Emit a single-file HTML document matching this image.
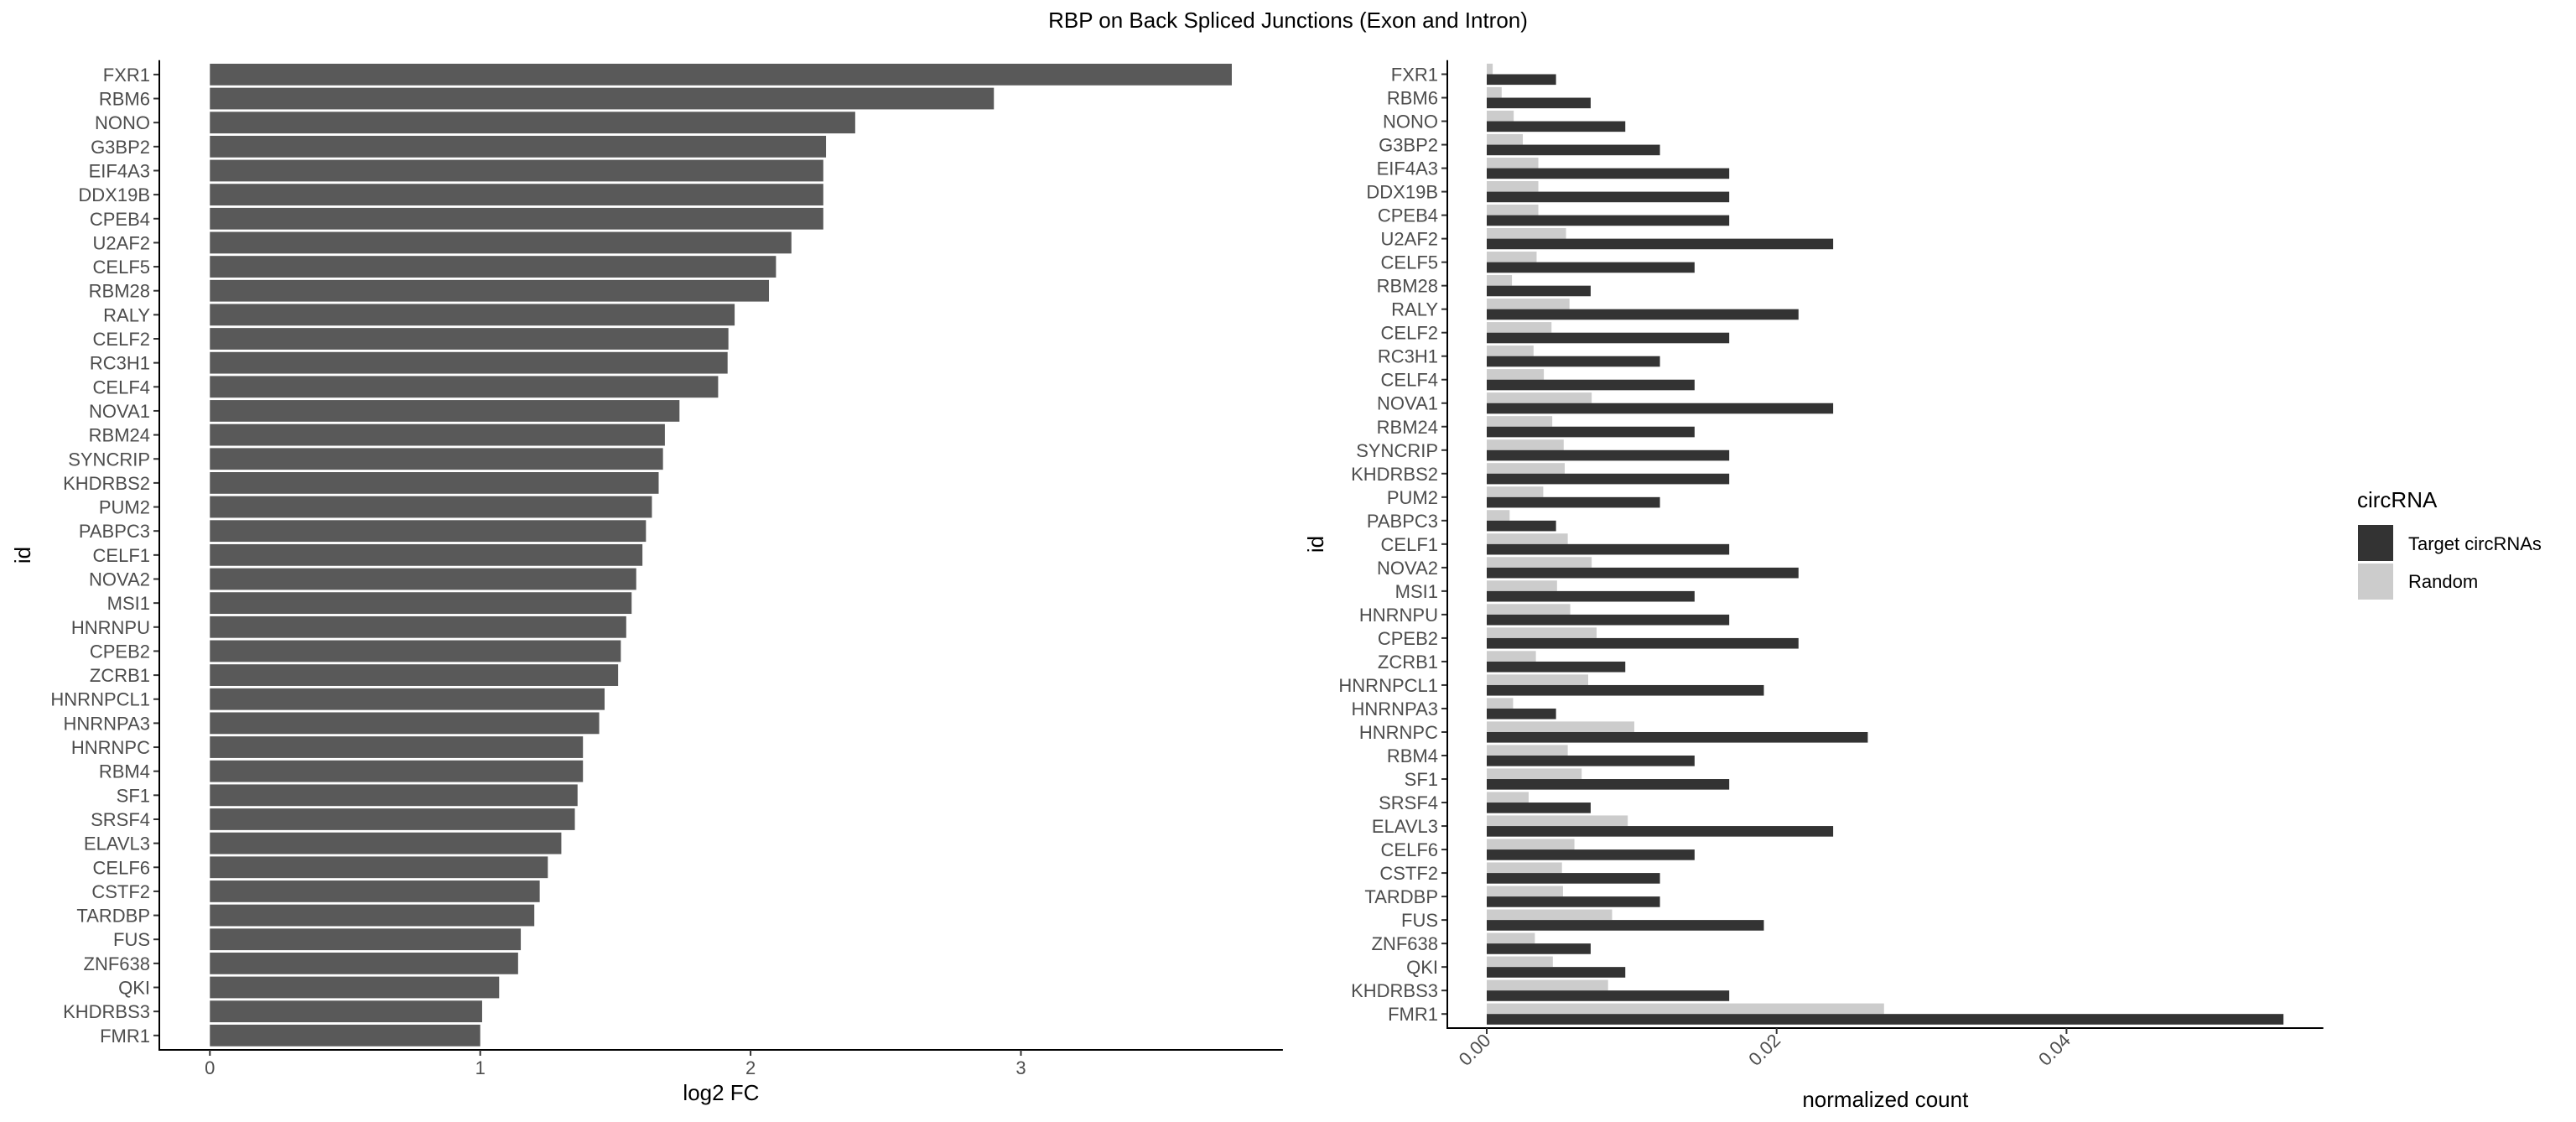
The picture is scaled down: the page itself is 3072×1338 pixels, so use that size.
<!DOCTYPE html>
<html><head><meta charset="utf-8">
<style>
html,body{margin:0;padding:0;background:#fff;}
svg{display:block;font-family:"Liberation Sans",Arial,sans-serif;}
</style></head>
<body>
<svg id="chart" width="3072" height="1338" viewBox="0 0 3072 1338" xmlns="http://www.w3.org/2000/svg">
<rect x="0" y="0" width="3072" height="1338" fill="#fff"/>
<text x="1536" y="33" font-size="26" text-anchor="middle" fill="#000">RBP on Back Spliced Junctions (Exon and Intron)</text>
<g id="left"></g>
<g id="right"></g>
<g>
<text x="2811" y="605" font-size="26" fill="#000">circRNA</text>
<rect x="2812" y="626" width="42" height="43" fill="#333333"/>
<rect x="2812" y="672" width="42" height="43" fill="#cccccc"/>
<text x="2872" y="656" font-size="22" fill="#000">Target circRNAs</text>
<text x="2872" y="701" font-size="22" fill="#000">Random</text>
</g>
</svg>
<script>
const ids = ["FXR1","RBM6","NONO","G3BP2","EIF4A3","DDX19B","CPEB4","U2AF2","CELF5","RBM28","RALY","CELF2","RC3H1","CELF4","NOVA1","RBM24","SYNCRIP","KHDRBS2","PUM2","PABPC3","CELF1","NOVA2","MSI1","HNRNPU","CPEB2","ZCRB1","HNRNPCL1","HNRNPA3","HNRNPC","RBM4","SF1","SRSF4","ELAVL3","CELF6","CSTF2","TARDBP","FUS","ZNF638","QKI","KHDRBS3","FMR1"];
const log2fc = [3.78,2.90,2.387,2.279,2.269,2.269,2.269,2.151,2.094,2.068,1.941,1.918,1.915,1.880,1.737,1.683,1.676,1.660,1.635,1.613,1.600,1.577,1.56,1.54,1.52,1.51,1.46,1.44,1.38,1.38,1.36,1.35,1.30,1.25,1.22,1.20,1.15,1.14,1.07,1.007,1.0];
const targetCount = [0.00478,0.00717,0.00956,0.01195,0.01673,0.01673,0.01673,0.0239,0.01434,0.00717,0.02151,0.01673,0.01195,0.01434,0.0239,0.01434,0.01673,0.01673,0.01195,0.00478,0.01673,0.02151,0.01434,0.01673,0.02151,0.00956,0.01912,0.00478,0.02629,0.01434,0.01673,0.00717,0.0239,0.01434,0.01195,0.01195,0.01912,0.00717,0.00956,0.01673,0.05497];
const randomCount = [0.00041,0.00103,0.00186,0.00249,0.00356,0.00356,0.00356,0.00547,0.00344,0.00174,0.00571,0.00447,0.00323,0.00394,0.00724,0.00452,0.00531,0.00538,0.0039,0.00158,0.00559,0.00724,0.00485,0.00576,0.00758,0.00339,0.007,0.00182,0.01018,0.00559,0.00655,0.00289,0.00973,0.00605,0.00519,0.00526,0.00865,0.00332,0.00456,0.00837,0.02741];
const leftTicks = [0,1,2,3];
const rightTicks = [0,0.02,0.04];
const rightTickLabels = ["0.00","0.02","0.04"];

const NS="http://www.w3.org/2000/svg";
function mk(parent, tag, attrs){const e=document.createElementNS(NS,tag);for(const k in attrs)e.setAttribute(k,attrs[k]);parent.appendChild(e);return e;}
const n = ids.length;

// LEFT PANEL
(function(){
  const g=document.getElementById('left');
  const top=71.7,bottom=1252,axisX=190,x0=250.3,unit=322.4;
  const step=(bottom-top)/(n-1+1.2);
  const xs=v=>x0+v*unit;
  const yc=i=>top+step*(0.6+i);
  const right=x0+Math.max(...log2fc)*1.05*unit;
  for(let i=0;i<n;i++){
    const r=mk(g,'rect',{x:xs(0),y:yc(i)-0.45*step,width:xs(log2fc[i])-xs(0),height:0.9*step,fill:'#595959'});
    
    
    const t=mk(g,'line',{x1:axisX-7,x2:axisX,y1:yc(i),y2:yc(i),stroke:'#333','stroke-width':2});
    
    
    const l=mk(g,'text',{x:axisX-11,y:yc(i)+8,'font-size':22,'text-anchor':'end',fill:'#4d4d4d'});
    l.textContent=ids[i];
    
    
  }
  const ya=mk(g,'line',{x1:axisX,x2:axisX,y1:top,y2:bottom+1,stroke:'#000','stroke-width':2});
  
  
  const xa=mk(g,'line',{x1:axisX-1,x2:right,y1:bottom,y2:bottom,stroke:'#000','stroke-width':2});
  
  
  leftTicks.forEach(v=>{
    const t=mk(g,'line',{x1:xs(v),x2:xs(v),y1:bottom,y2:bottom+7,stroke:'#333','stroke-width':2});
    
    
    const l=mk(g,'text',{x:xs(v),y:bottom+29,'font-size':22,'text-anchor':'middle',fill:'#4d4d4d'});
    l.textContent=String(v);
    
    
  });
  const xt=mk(g,'text',{x:(axisX+right)/2,y:1312,'font-size':26,'text-anchor':'middle',fill:'#000'});
  xt.textContent='log2 FC';
  
  
  const yt=mk(g,'text',{x:0,y:0,'font-size':26,'text-anchor':'middle',fill:'#000',transform:'translate(36,662) rotate(-90)'});
  yt.textContent='id';
  
  
})();

// RIGHT PANEL
(function(){
  const g=document.getElementById('right');
  const top=71.7,bottom=1226,axisX=1726,x0=1773,unit=17285;
  const step=(bottom-top)/(n-1+1.2);
  const xs=v=>x0+v*unit;
  const yc=i=>top+step*(0.6+i);
  const right=x0+Math.max(...targetCount,...randomCount)*1.05*unit;
  const hw=0.45*step;
  for(let i=0;i<n;i++){
    const r1=mk(g,'rect',{x:xs(0),y:yc(i)-hw,width:xs(randomCount[i])-xs(0),height:hw,fill:'#cccccc'});
    
    
    const r2=mk(g,'rect',{x:xs(0),y:yc(i),width:xs(targetCount[i])-xs(0),height:hw,fill:'#333333'});
    
    
    const t=mk(g,'line',{x1:axisX-7,x2:axisX,y1:yc(i),y2:yc(i),stroke:'#333','stroke-width':2});
    
    
    const l=mk(g,'text',{x:axisX-11,y:yc(i)+8,'font-size':22,'text-anchor':'end',fill:'#4d4d4d'});
    l.textContent=ids[i];
    
    
  }
  const ya=mk(g,'line',{x1:axisX,x2:axisX,y1:top,y2:bottom+1,stroke:'#000','stroke-width':2});
  
  
  const xa=mk(g,'line',{x1:axisX-1,x2:right,y1:bottom,y2:bottom,stroke:'#000','stroke-width':2});
  
  
  rightTicks.forEach((v,k)=>{
    const t=mk(g,'line',{x1:xs(v),x2:xs(v),y1:bottom,y2:bottom+7,stroke:'#333','stroke-width':2});
    
    
    const l=mk(g,'text',{x:0,y:0,'font-size':22,'text-anchor':'end',fill:'#4d4d4d',transform:'translate('+(xs(v)+6)+','+(bottom+16)+') rotate(-45)'});
    l.textContent=rightTickLabels[k];
    
    
  });
  const xt=mk(g,'text',{x:(axisX+right)/2,y:1320,'font-size':26,'text-anchor':'middle',fill:'#000'});
  xt.textContent='normalized count';
  
  
  const yt=mk(g,'text',{x:0,y:0,'font-size':26,'text-anchor':'middle',fill:'#000',transform:'translate(1578,649) rotate(-90)'});
  yt.textContent='id';
  
  
})();
</script>
</body></html>
